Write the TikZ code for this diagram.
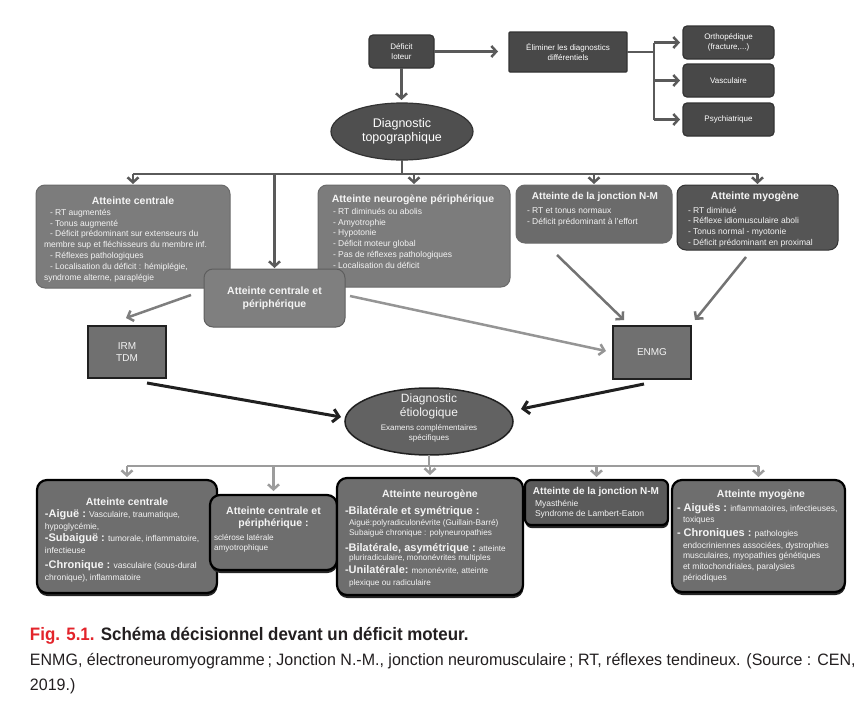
\documentclass[tikz,border=0pt]{standalone}
\usepackage{fontspec}
\setmainfont{Liberation Sans}
\newfontfamily\capfont[FakeStretch=0.97]{Liberation Sans}
\newfontfamily\capbfont[FakeStretch=0.94]{Liberation Sans}
\usetikzlibrary{arrows.meta,shapes.geometric,shadows}
\definecolor{dbox}{HTML}{484848}
\definecolor{dboxb}{HTML}{333333}
\definecolor{ellc}{HTML}{4F4F4F}
\definecolor{mgray}{HTML}{7C7C7C}
\definecolor{mgrayb}{HTML}{6A6A6A}
\definecolor{cpgray}{HTML}{7F7F7F}
\definecolor{cpb}{HTML}{5E5E5E}
\definecolor{jgray}{HTML}{6B6B6B}
\definecolor{mygray}{HTML}{555555}
\definecolor{ifill}{HTML}{707070}
\definecolor{efill}{HTML}{626262}
\definecolor{bgray}{HTML}{6E6E6E}
\definecolor{bjgray}{HTML}{5A5A5A}
\definecolor{arrg}{HTML}{5A5A5A}
\definecolor{marrc}{HTML}{7E7E7E}
\definecolor{larrc}{HTML}{959595}
\definecolor{barrc}{HTML}{202020}
\definecolor{busc}{HTML}{9C9C9C}
\definecolor{txt}{HTML}{F4F4F4}
\definecolor{figred}{HTML}{E3242B}
\definecolor{captxt}{HTML}{231F20}
\newcommand\myld[1]{{\bfseries\fontsize{11}{12}\selectfont #1}}
\tikzset{
  every node/.style={inner sep=0pt, outer sep=0pt},
  tbox/.style={draw=dboxb, fill=dbox, line width=1.2pt, rounded corners=4pt, text=white,
    font=\fontsize{8}{10}\selectfont, align=center},
  topell/.style={ellipse, draw=dboxb, fill=ellc, line width=1.2pt, text=white,
    font=\fontsize{12.5}{14}\selectfont, align=center},
  mbox/.style={rounded corners=9pt, line width=1pt, anchor=north west},
  ttl/.style={text=txt, font=\bfseries\fontsize{10.5}{13}\selectfont, align=center},
  sm/.style={text=txt, font=\fontsize{8.5}{10.8}\selectfont, align=left, anchor=north west},
  bs/.style={text=txt, font=\fontsize{8.5}{10}\selectfont, anchor=base west},
  bsn/.style={text=txt, font=\fontsize{8.2}{10}\selectfont, anchor=base west},
  ibox/.style={draw=barrc, fill=ifill, line width=1.5pt, text=txt,
    font=\fontsize{10}{11.5}\selectfont, align=center, minimum width=78, minimum height=52},
  etell/.style={ellipse, draw=barrc, fill=efill, line width=1.5pt},
  bbox/.style={anchor=north west, rounded corners=10pt, draw=black, line width=2.2pt, fill=bgray,
    drop shadow={shadow xshift=0.5pt, shadow yshift=-3pt, fill=black!85, opacity=1}},
  gline/.style={draw=arrg, line width=2.5pt},
  garr/.style={draw=arrg, line width=2.5pt, -{Straight Barb[length=5pt,width=11pt]}},
  marr/.style={draw=marrc, line width=2.5pt, -{Straight Barb[length=5pt,width=11pt]}},
  larr/.style={draw=larrc, line width=2.5pt, -{Straight Barb[length=5pt,width=11pt]}},
  barr/.style={draw=barrc, line width=3pt, -{Straight Barb[length=6pt,width=13pt]}},
  busl/.style={draw=busc, line width=2.5pt},
  busarr/.style={draw=busc, line width=2.5pt, -{Straight Barb[length=5pt,width=11pt]}},
}
\begin{document}
\begin{tikzpicture}[x=1pt,y=-1pt]
\useasboundingbox[fill=white] (0,0) rectangle (868,704);

% ---------- top ----------
\node[tbox, minimum width=65, minimum height=33] (def) at (401.5,51.5) {Déficit\\loteur};
\node[tbox, rounded corners=1pt, minimum width=118, minimum height=40] (elim) at (568,52) {Éliminer les diagnostics\\différentiels};
\node[tbox, minimum width=91, minimum height=33] (orth) at (728.5,42.5) {Orthopédique\\(fracture,...)};
\node[tbox, minimum width=91, minimum height=33] (vasc) at (728.5,80.5) {Vasculaire};
\node[tbox, minimum width=91, minimum height=33] (psy) at (728.5,119.5) {Psychiatrique};
\node[topell, minimum width=142, minimum height=57] (topo) at (402,131.5) {Diagnostic\\topographique};

\coordinate (ej) at (654,52);
\draw[garr, shorten >=11pt] (def.east) -- (def.east -| elim.west);
\draw[gline] (elim.east) -- (ej);
\draw[gline] (ej |- orth.west) -- (ej |- psy.west);
\draw[garr, shorten >=3pt] (ej |- orth.west) -- (orth.west);
\draw[garr, shorten >=3pt] (ej |- vasc.west) -- (vasc.west);
\draw[garr, shorten >=3pt] (ej |- psy.west) -- (psy.west);
\draw[garr, shorten >=3pt] (def.south) -- (def.south |- topo.north);

% ---------- middle boxes ----------
\node[mbox, fill=mgray, draw=mgrayb, minimum width=194, minimum height=103] (ac) at (36,185) {};
\node[mbox, fill=mgray, draw=mgrayb, minimum width=192, minimum height=102] (np) at (318,185) {};
\node[mbox, fill=jgray, draw=mgrayb, minimum width=156, minimum height=58] (jm) at (516,185) {};
\node[mbox, fill=mygray, draw=dboxb, minimum width=161, minimum height=65] (my) at (677,185) {};

\coordinate (tbus) at (402,174);
\draw[gline] (topo.south) -- (tbus);
\draw[gline] (ac.north |- tbus) -- (my.north |- tbus);
\draw[garr, shorten >=1pt] (ac.north |- tbus) -- (ac.north);
\draw[garr, shorten >=1pt] (np.north |- tbus) -- (np.north);
\draw[garr, shorten >=1pt] (jm.north |- tbus) -- (jm.north);
\draw[garr, shorten >=1pt] (my.north |- tbus) -- (my.north);

\node[ttl] (act) at (133,201) {Atteinte centrale};
\node[sm] (acx) at (44,209) {\hspace*{6pt}- RT augmentés\\\hspace*{6pt}- Tonus augmenté\\\hspace*{6pt}- Déficit prédominant sur extenseurs du\\membre sup et fléchisseurs du membre inf.\\\hspace*{6pt}- Réflexes pathologiques\\\hspace*{6pt}- Localisation du déficit : hémiplégie,\\syndrome alterne, paraplégie};

\node[ttl] (npt) at (413,200) {Atteinte neurogène périphérique};
\node[sm] (npx) at (333,208) {- RT diminués ou abolis\\- Amyotrophie\\- Hypotonie\\- Déficit moteur global\\- Pas de réflexes pathologiques\\- Localisation du déficit};

\node[ttl, font=\bfseries\fontsize{10}{12}\selectfont] (jmt) at (595,197) {Atteinte de la jonction N-M};
\node[sm, font=\fontsize{8.5}{10.5}\selectfont] (jmx) at (527,208) {- RT et tonus normaux\\- Déficit prédominant à l'effort};

\node[ttl] (myt) at (755,197) {Atteinte myogène};
\node[sm, font=\fontsize{8.5}{10.7}\selectfont] (myx) at (688,207) {- RT diminué\\- Réflexe idiomusculaire aboli\\- Tonus normal - myotonie\\- Déficit prédominant en proximal};

\node[mbox, fill=cpgray, draw=cpb, minimum width=141, minimum height=58] (cp) at (204,269) {};
\draw[garr, shorten >=1pt] (cp.north |- tbus) -- (cp.north);
\node[ttl] (cpt) at (cp.center) {Atteinte centrale et\\périphérique};

% ---------- exams ----------
\node[ibox] (irm) at (127,352) {IRM\\TDM};
\node[ibox, minimum height=53] (enmg) at (652,352.5) {ENMG};

\coordinate (a1s) at (191,295); \coordinate (a1e) at (126,318);
\coordinate (a2s) at (350,296); \coordinate (a2e) at (606,351);
\coordinate (a3s) at (557,255); \coordinate (a3e) at (624,320);
\coordinate (a4s) at (746,257); \coordinate (a4e) at (695,320);
\draw[marr] (a1s) -- (a1e);
\draw[larr] (a2s) -- (a2e);
\draw[marr, draw=arrg!85!white] (a3s) -- (a3e);
\draw[marr, draw=arrg!85!white] (a4s) -- (a4e);

\node[etell, minimum width=168, minimum height=67] (etio) at (429,421.5) {};
\node[text=txt, font=\fontsize{12}{14}\selectfont, align=center] (et1) at (429,406) {Diagnostic\\étiologique};
\node[text=txt, font=\fontsize{8}{10}\selectfont, align=center] (et2) at (429,433.5) {Examens complémentaires\\spécifiques};

\coordinate (b1s) at (147,383); \coordinate (b1e) at (341,417);
\coordinate (b2s) at (644,384); \coordinate (b2e) at (521,409);
\draw[barr] (b1s) -- (b1e);
\draw[barr] (b2s) -- (b2e);

% ---------- bottom boxes ----------
\node[bbox, minimum width=180, minimum height=113] (bc) at (37,480) {};
\node[bbox, minimum width=127, minimum height=75] (bcp) at (210,495) {};
\node[bbox, minimum width=186, minimum height=117] (bn) at (337,478) {};
\node[bbox, fill=bjgray, rounded corners=6pt, minimum width=143, minimum height=45] (bj) at (525,480) {};
\node[bbox, minimum width=173, minimum height=112] (bm) at (672,480) {};

\coordinate (bbus) at (429,466);
\draw[busl] (etio.south) -- (bbus);
\draw[busl] (bc.north |- bbus) -- (bm.north |- bbus);
\draw[busarr, shorten >=3pt] (bc.north |- bbus) -- (bc.north);
\draw[busarr, shorten >=4pt] (bcp.north |- bbus) -- (bcp.north);
\draw[busarr, shorten >=3pt] (bn.north |- bbus) -- (bn.north);
\draw[busarr, shorten >=3pt] (bj.north |- bbus) -- (bj.north);
\draw[busarr, shorten >=3pt] (bm.north |- bbus) -- (bm.north);

\node[ttl] (bct) at (127,502) {Atteinte centrale};
\node[bs] (bc1) at (45,517) {\myld{-Aiguë :} Vasculaire, traumatique,};
\node[bs] (bc2) at (45,529) {hypoglycémie,};
\node[bs] (bc3) at (45,541) {\myld{-Subaiguë :} tumorale, inflammatoire,};
\node[bs] (bc4) at (45,553) {infectieuse};
\node[bs] (bc5) at (45,568) {\myld{-Chronique :} vasculaire (sous-dural};
\node[bs] (bc6) at (45,580) {chronique), inflammatoire};

\node[ttl, font=\bfseries\fontsize{10.5}{12}\selectfont] (bcpt) at (273.5,517.5) {Atteinte centrale et\\périphérique :};
\node[bsn] (bcp1) at (214,540) {sclérose latérale};
\node[bsn] (bcp2) at (214,550) {amyotrophique};

\node[ttl] (bnt) at (430,495) {Atteinte neurogène};
\node[bs] (bn1) at (345,514) {\myld{-Bilatérale et symétrique :}};
\node[bsn] (bn2) at (349,525) {Aiguë:polyradiculonévrite (Guillain-Barré)};
\node[bsn] (bn3) at (349,535) {Subaiguë chronique : polyneuropathies};
\node[bsn] (bn4) at (345,551) {\myld{-Bilatérale, asymétrique :} atteinte};
\node[bsn] (bn5) at (349,560) {pluriradiculaire, mononévrites multiples};
\node[bsn] (bn6) at (345,573) {\myld{-Unilatérale:} mononévrite, atteinte};
\node[bsn] (bn7) at (349,585) {plexique ou radiculaire};

\node[ttl, font=\bfseries\fontsize{10}{12}\selectfont] (bjt) at (596,492) {Atteinte de la jonction N-M};
\node[bs] (bj1) at (535,506) {Myasthénie};
\node[bs] (bj2) at (535,516) {Syndrome de Lambert-Eaton};

\node[ttl] (bmt) at (761,495) {Atteinte myogène};
\node[bs] (bm1) at (677,511) {\myld{- Aiguës :} inflammatoires, infectieuses,};
\node[bs] (bm2) at (683,522) {toxiques};
\node[bs] (bm3) at (677,536) {\myld{- Chroniques :} pathologies};
\node[bs] (bm4) at (683,548) {endocriniennes associées, dystrophies};
\node[bs] (bm5) at (683,558) {musculaires, myopathies génétiques};
\node[bs] (bm6) at (683,569) {et mitochondriales, paralysies};
\node[bs] (bm7) at (683,580) {périodiques};

% ---------- caption ----------
\node[anchor=base west, font=\capbfont\bfseries\fontsize{18}{20}\selectfont] (cap1) at (30,640)
  {\textcolor{figred}{Fig. 5.1.} \textcolor{captxt}{Schéma décisionnel devant un déficit moteur.}};
\node[anchor=base west, text=captxt, font=\capfont\fontsize{16.5}{20}\selectfont] (cap2) at (30,665)
  {ENMG, électroneuromyogramme\,; Jonction N.-M., jonction neuromusculaire\,; RT, réflexes tendineux. (Source : CEN,};
\node[anchor=base west, text=captxt, font=\capfont\fontsize{16.5}{20}\selectfont] (cap3) at (30,690) {2019.)};
\end{tikzpicture}
\end{document}
